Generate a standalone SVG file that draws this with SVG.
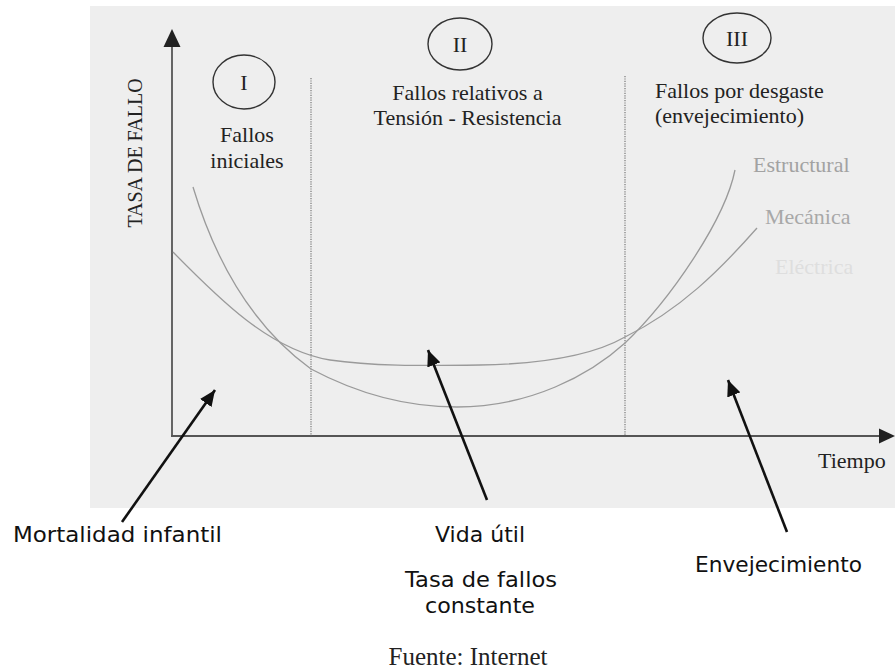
<svg xmlns="http://www.w3.org/2000/svg" width="895" height="672" viewBox="0 0 895 672">
<defs>
<style>
.serif{font-family:"Liberation Serif","Times New Roman",serif;fill:#222;}
.lbl{font-size:22px;}
.faint{font-family:"Liberation Serif","Times New Roman",serif;font-size:22px;}
.comic{font-family:"DejaVu Sans","Noto Sans",sans-serif;font-size:21px;fill:#111;}
.curve{fill:none;stroke:#9a9a9a;stroke-width:1.3;}
.axis{stroke:#555;stroke-width:1.8;fill:none;}
.dot{stroke:#777;stroke-width:1.2;stroke-dasharray:1.2 1.2;fill:none;}
.ell{fill:none;stroke:#333;stroke-width:1.4;}
.ptr{stroke:#111;stroke-width:2.6;fill:none;}
</style>
<marker id="ah" markerUnits="userSpaceOnUse" markerWidth="18" markerHeight="14" refX="16" refY="7" orient="auto">
<path d="M0,0 L16,7 L0,14 Z" fill="#111"/>
</marker>
</defs>
<rect width="895" height="672" fill="#ffffff"/>
<rect x="90" y="6" width="805" height="502" fill="#eeeeee"/>

<g id="axes">
<line class="axis" x1="172" y1="45" x2="172" y2="437"/>
<path d="M172,29 L163.5,47 L180.5,47 Z" fill="#222"/>
<line class="axis" x1="171" y1="436" x2="880" y2="436"/>
<path d="M895,436 L879,428.5 L879,443.5 Z" fill="#222"/>
<text class="serif" font-size="20" transform="translate(142,153) rotate(-90)" text-anchor="middle">TASA DE FALLO</text>
<text class="serif lbl" x="818" y="468">Tiempo</text>
</g>

<g id="dividers">
<line class="dot" x1="311" y1="78" x2="311" y2="436"/>
<line class="dot" x1="625" y1="76" x2="625" y2="436"/>
</g>

<g id="zone1">
<ellipse class="ell" cx="244" cy="82" rx="31" ry="27"/>
<text class="serif lbl" x="244" y="90" text-anchor="middle">I</text>
<text class="serif lbl" x="247" y="142" text-anchor="middle">Fallos</text>
<text class="serif lbl" x="247" y="168" text-anchor="middle">iniciales</text>
</g>

<g id="zone2">
<ellipse class="ell" cx="460" cy="44" rx="32" ry="26"/>
<text class="serif lbl" x="460" y="52" text-anchor="middle">II</text>
<text class="serif lbl" x="467.5" y="100" text-anchor="middle">Fallos relativos a</text>
<text class="serif lbl" x="467.5" y="125" text-anchor="middle">Tensión - Resistencia</text>
</g>

<g id="zone3">
<ellipse class="ell" cx="737" cy="38" rx="34" ry="25"/>
<text class="serif lbl" x="737" y="46" text-anchor="middle">III</text>
<text class="serif lbl" x="655" y="98">Fallos por desgaste</text>
<text class="serif lbl" x="655" y="123">(envejecimiento)</text>
</g>

<g id="curves">
<path class="curve" d="M193,187 Q230,310 311,369 C360,395 410,407 457,407 C530,407 590,375 625,343 C670,300 725,220 735,170"/>
<path class="curve" d="M173,252 C220,300 270,350 330,360 C370,366 420,366 480,365 C540,364 590,357 625,337 C680,310 720,270 757,228"/>
<text class="faint" x="753" y="172" fill="#a2a2a2">Estructural</text>
<text class="faint" x="765" y="224" fill="#a8a8a8">Mecánica</text>
<text class="faint" x="775" y="274" fill="#dedede">Eléctrica</text>
</g>

<g id="connectors">
<line class="ptr" x1="122" y1="522" x2="215" y2="390" marker-end="url(#ah)"/>
<line class="ptr" x1="487" y1="500" x2="428" y2="350" marker-end="url(#ah)"/>
<line class="ptr" x1="787" y1="532" x2="728" y2="380" marker-end="url(#ah)"/>
</g>

<g id="label-mortalidad">
<text class="comic" x="13" y="542" textLength="209" lengthAdjust="spacingAndGlyphs">Mortalidad infantil</text>
</g>
<g id="label-vida">
<text class="comic" x="435" y="542" textLength="90" lengthAdjust="spacingAndGlyphs">Vida útil</text>
<text class="comic" x="405" y="587" textLength="152" lengthAdjust="spacingAndGlyphs">Tasa de fallos</text>
<text class="comic" x="425" y="613" textLength="110" lengthAdjust="spacingAndGlyphs">constante</text>
</g>
<g id="label-envejecimiento">
<text class="comic" x="695" y="572" textLength="167" lengthAdjust="spacingAndGlyphs">Envejecimiento</text>
</g>
<g id="source">
<text class="serif" font-size="25" x="468" y="665" text-anchor="middle" fill="#111">Fuente: Internet</text>
</g>
</svg>
